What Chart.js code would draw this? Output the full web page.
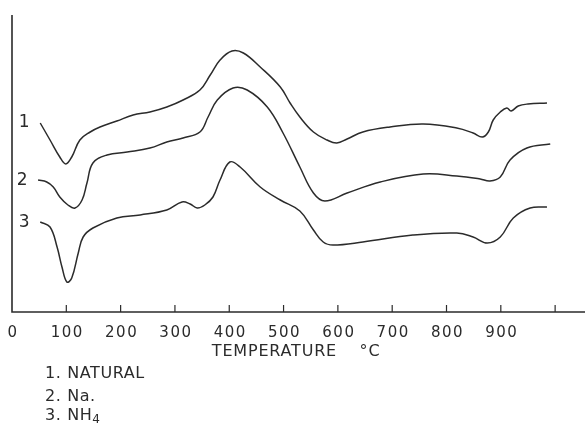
<!DOCTYPE html>
<html lang="en">
<head>
    <meta charset="UTF-8">
    <title>DTA curves</title>
    <script src="https://cdn.jsdelivr.net/npm/chart.js"></script>
    <style>
        body {
            margin: 0;
            background-color: #ffffff;
        }
        #chart-container {
            width: 585px;
            height: 426px;
        }
    </style>
</head>
<body>
    <div id="chart-container">
        <canvas id="dtaChart" width="585" height="426"></canvas>
    </div>

    <script>
        // temperatures (deg C) and trace heights (arbitrary units)
        const tempNatural = [52, 70, 88, 99, 110, 125, 144, 162, 193, 223, 254, 285, 315, 346, 365, 383, 405, 426, 457, 494, 512, 530, 555, 580, 598, 617, 646, 696, 757, 819, 849, 866, 877, 886, 899, 911, 919, 932, 950, 985];
        const natural = [189, 172, 155, 148, 155, 172, 180, 185, 191, 197, 200, 205, 212, 222, 237, 252, 261, 259, 245, 225, 209, 195, 180, 172, 169, 173, 180, 185, 188, 184, 179, 175, 180, 192, 200, 204, 201, 206, 208, 209];

        const tempNa = [48, 64, 76, 88, 103, 116, 129, 138, 149, 175, 212, 254, 285, 315, 346, 361, 378, 407, 433, 470, 499, 530, 555, 576, 617, 678, 757, 819, 862, 880, 899, 917, 948, 991];
        const sodium = [132, 130, 125, 115, 107, 104, 112, 129, 149, 157, 160, 164, 170, 174, 180, 195, 212, 224, 222, 205, 179, 145, 119, 111, 119, 130, 138, 136, 133, 131, 135, 152, 164, 168];

        const tempNH4 = [52, 70, 83, 92, 101, 110, 122, 131, 149, 193, 236, 285, 313, 328, 341, 355, 370, 383, 401, 420, 457, 494, 530, 555, 573, 591, 646, 738, 819, 849, 875, 899, 923, 954, 985];
        const ammonium = [90, 85, 65, 45, 30, 34, 59, 75, 84, 94, 97, 102, 110, 108, 104, 107, 115, 132, 150, 145, 125, 112, 101, 82, 70, 67, 70, 77, 79, 75, 69, 75, 94, 104, 105];

        const tickValues = [0, 100, 200, 300, 400, 500, 600, 700, 800, 900, 1000];
        const tickLabels = ['0', '100', '200', '300', '400', '500', '600', '700', '800', '900', ''];
        const curveLabels = ['1', '2', '3'];
        const legendLines = ['1. NATURAL', '2. Na.', '3. NH'];

        const ink = '#2b2b2b';

        function toPoints(xs, ys) {
            return xs.map((x, i) => ({ x: x, y: ys[i] }));
        }

        // axes, inward ticks, labels and the key are drawn by hand like the original figure
        const figurePlugin = {
            id: 'figure',
            afterDraw(chart) {
                const ctx = chart.ctx;
                const xs = chart.scales.x;
                const ys = chart.scales.y;
                const area = chart.chartArea;
                const x0 = xs.getPixelForValue(0);
                const yBase = ys.getPixelForValue(0);

                ctx.save();
                ctx.strokeStyle = ink;
                ctx.fillStyle = ink;
                ctx.lineWidth = 1.6;

                // axis lines
                ctx.beginPath();
                ctx.moveTo(x0, area.top);
                ctx.lineTo(x0, yBase);
                ctx.lineTo(area.right, yBase);
                ctx.stroke();

                // tick marks pointing up into the plot
                ctx.lineWidth = 1.2;
                tickValues.forEach(v => {
                    if (v === 0) return;
                    const px = xs.getPixelForValue(v);
                    ctx.beginPath();
                    ctx.moveTo(px, yBase);
                    ctx.lineTo(px, yBase - 7);
                    ctx.stroke();
                });

                // tick labels
                ctx.font = '15px "DejaVu Sans"';
                ctx.letterSpacing = '1.5px';
                ctx.textAlign = 'center';
                ctx.textBaseline = 'middle';
                tickValues.forEach((v, i) => {
                    ctx.fillText(tickLabels[i], xs.getPixelForValue(v) + 1, yBase + 21);
                });

                // axis title
                ctx.font = '16px "DejaVu Sans"';
                ctx.letterSpacing = '0.8px';
                ctx.textAlign = 'left';
                ctx.fillText('TEMPERATURE', xs.getPixelForValue(368), yBase + 40);
                ctx.fillText('\u00B0C', xs.getPixelForValue(640), yBase + 40);

                // curve numbers
                ctx.font = '17px "DejaVu Sans"';
                ctx.letterSpacing = '0px';
                ctx.textAlign = 'center';
                const starts = [[tempNatural, natural], [tempNa, sodium], [tempNH4, ammonium]];
                starts.forEach((s, i) => {
                    const px = xs.getPixelForValue(s[0][0]) - 16;
                    const py = ys.getPixelForValue(s[1][0]) + (i === 0 ? 0 : 1);
                    ctx.fillText(curveLabels[i], px, py);
                });

                // key
                ctx.font = '16px "DejaVu Sans"';
                ctx.letterSpacing = '0.6px';
                ctx.textAlign = 'left';
                const keyX = 45;
                const keyY = [374, 397, 416];
                legendLines.forEach((t, i) => {
                    ctx.fillText(t, keyX, keyY[i]);
                });
                const nhWidth = ctx.measureText(legendLines[2]).width;
                ctx.font = '12px "DejaVu Sans"';
                ctx.fillText('4', keyX + nhWidth, keyY[2] + 4);

                ctx.restore();
            }
        };

        const lineStyle = {
            borderColor: ink,
            borderWidth: 1.5,
            pointRadius: 0,
            fill: false,
            tension: 0.4
        };

        new Chart(document.getElementById('dtaChart').getContext('2d'), {
            type: 'line',
            data: {
                datasets: [
                    Object.assign({ label: 'Natural', data: toPoints(tempNatural, natural) }, lineStyle),
                    Object.assign({ label: 'Na', data: toPoints(tempNa, sodium) }, lineStyle),
                    Object.assign({ label: 'NH4', data: toPoints(tempNH4, ammonium) }, lineStyle)
                ]
            },
            options: {
                responsive: false,
                animation: false,
                layout: { padding: { left: 12, right: 0, top: 15, bottom: 114 } },
                plugins: {
                    legend: { display: false },
                    tooltip: { enabled: false }
                },
                scales: {
                    x: { type: 'linear', min: 0, max: 1055, display: false },
                    y: { min: 0, max: 297, display: false }
                }
            },
            plugins: [figurePlugin]
        });
    </script>
</body>
</html>
